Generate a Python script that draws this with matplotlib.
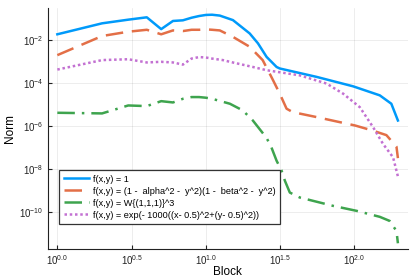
import numpy as np
import matplotlib
matplotlib.use("Agg")
import matplotlib.pyplot as plt
from matplotlib.ticker import FixedLocator, FuncFormatter, NullLocator

plt.rcParams['font.family'] = ['Liberation Sans', 'DejaVu Sans']
plt.rcParams['mathtext.fontset'] = 'custom'
plt.rcParams['mathtext.rm'] = 'Liberation Sans'
plt.rcParams['mathtext.default'] = 'regular'

# data: block number and log10 of the norm
blue_x = [1, 2, 3, 4, 5, 6, 7, 8, 9, 10, 11, 12.4, 15.2, 19.7, 22.4, 25.6, 29.9, 31.4, 55.5, 97.9, 148, 177, 196]
blue_y = [-1.73, -1.22, -1.05, -0.94, -1.49, -1.11, -1.08, -0.96, -0.88, -0.83, -0.82, -0.86, -1.07, -1.69,
          -2.15, -2.78, -3.25, -3.32, -3.71, -4.15, -4.57, -4.96, -5.74]

orange_x = [1, 2, 3, 4, 5, 6, 7, 8, 9, 10, 11, 12.4, 15.2, 19.7, 24.1, 27.9, 31.4, 34.9, 38.4, 55.5,
            100.7, 132.8, 164, 191.7, 196]
orange_y = [-2.70, -1.81, -1.61, -1.52, -1.73, -1.55, -1.58, -1.52, -1.52, -1.50, -1.52, -1.55, -1.85, -2.31,
            -2.93, -3.78, -4.49, -5.19, -5.35, -5.58, -5.97, -6.21, -6.42, -6.96, -7.49]

green_x = [1, 2, 3, 4, 5, 6, 7, 8, 9, 10, 11, 14.5, 17.7, 20.7, 25.6, 27.6, 29.9, 32.3, 34.0, 36.7, 42.8,
           71.8, 103.1, 148, 172.5, 191.7, 196]
green_y = [-5.38, -5.41, -5.04, -5.07, -4.84, -4.90, -4.73, -4.65, -4.65, -4.68, -4.73, -4.96, -5.27, -5.74,
           -6.55, -6.99, -7.61, -8.07, -8.54, -9.09, -9.32, -9.71, -9.94, -10.22, -10.41, -10.88, -11.45]

purple_x = [1, 2, 3, 4, 5, 6, 7, 8, 9, 10, 11, 13.0, 14.5, 20.7, 25.6, 42.8, 64.8, 83.8, 108.6, 126.8,
            133.4, 155.7, 181.8, 196]
purple_y = [-3.37, -2.93, -2.89, -3.04, -3.01, -3.04, -3.14, -2.86, -2.79, -2.81, -2.86, -2.93, -3.01, -3.25,
            -3.40, -3.64, -4.02, -4.49, -5.12, -5.82, -6.05, -6.83, -7.45, -8.34]

labels = ['f(x,y) = 1',
          'f(x,y) = (1 -  alpha^2 -  y^2)(1 -  beta^2 -  y^2)',
          'f(x,y) = W{(1,1,1)}^3',
          'f(x,y) = exp(- 1000((x- 0.5)^2+(y- 0.5)^2))']

xticks = [0.0, 0.5, 1.0, 1.5, 2.0]
yticks = [-10, -8, -6, -4, -2]

fig = plt.figure(figsize=(4.17, 2.78), dpi=100)
ax = fig.add_axes([0.114, 0.104, 0.864, 0.867])

lw = 1.8
ax.plot(blue_x, 10.0 ** np.array(blue_y), color='#009AFA', lw=lw, label=labels[0])
ax.plot(orange_x, 10.0 ** np.array(orange_y), color='#E36F47', lw=lw, dashes=(7, 3.5), label=labels[1])
ax.plot(green_x, 10.0 ** np.array(green_y), color='#3EA44E', lw=lw, dashes=(7, 2.8, 1, 2.8), label=labels[2])
ax.plot(purple_x, 10.0 ** np.array(purple_y), color='#C371D2', lw=lw, dashes=(1, 1.1), label=labels[3])

ax.set_xscale('log')
ax.set_yscale('log')
ax.set_xlim(10 ** -0.066, 10 ** 2.359)
ax.set_ylim(10 ** -11.72, 10 ** -0.51)

ax.xaxis.set_major_locator(FixedLocator([10 ** t for t in xticks]))
ax.yaxis.set_major_locator(FixedLocator([10.0 ** t for t in yticks]))
ax.xaxis.set_minor_locator(NullLocator())
ax.yaxis.set_minor_locator(NullLocator())
ax.xaxis.set_major_formatter(FuncFormatter(lambda v, p: r'$10^{%.1f}$' % np.log10(v)))
ax.yaxis.set_major_formatter(FuncFormatter(lambda v, p: r'$10^{%d}$' % round(np.log10(v))))

ax.tick_params(direction='in', length=3, width=0.8, labelsize=7, colors='#222222', pad=3)
ax.grid(True, color='#000000', alpha=0.1, lw=0.5)
for s in ['top', 'right']:
    ax.spines[s].set_visible(False)
for s in ['left', 'bottom']:
    ax.spines[s].set_color('#222222')

ax.set_xlabel('Block', fontsize=8.5, labelpad=-1)
ax.set_ylabel('Norm', fontsize=8.5, labelpad=2)

leg = ax.legend(loc='lower left', bbox_to_anchor=(0.033, 0.103), fontsize=6.6, fancybox=False,
                framealpha=1, edgecolor='#333333', handlelength=2.7, borderpad=0.5,
                labelspacing=0.33, handletextpad=0.45, borderaxespad=0)
leg.get_frame().set_linewidth(0.9)

fig.savefig('out.png', dpi=100)
